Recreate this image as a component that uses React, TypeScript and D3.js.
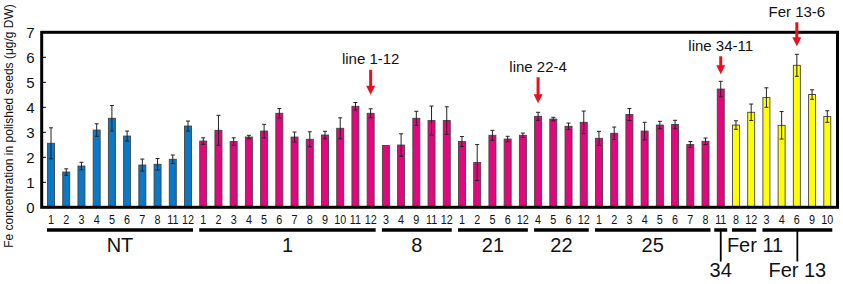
import React from "react";
import * as d3 from "d3";

const lineLabels = [
  "1","2","3","4","5","6","7","8","11","12",
  "1","2","3","4","5","6","7","8","9","10","11","12",
  "3","4","9","11","12",
  "1","2","5","6","12",
  "4","5","6","12",
  "1","2","3","4","5","6","7","8",
  "11",
  "8","12",
  "3","4","6","9","10",
];
const feValues = [
  2.56,1.41,1.65,3.09,3.56,2.85,1.69,1.72,1.92,3.25,
  2.65,3.08,2.63,2.81,3.05,3.76,2.81,2.72,2.89,3.16,4.04,3.76,
  2.47,2.49,3.56,3.47,3.47,
  2.63,1.79,2.88,2.73,2.88,
  3.64,3.53,3.24,3.40,
  2.76,2.96,3.71,3.05,3.29,3.31,2.51,2.64,
  4.73,
  3.29,3.80,
  4.39,3.28,5.68,4.51,3.63,
];
const feErrors = [
  0.62,0.13,0.15,0.25,0.51,0.20,0.24,0.23,0.17,0.20,
  0.13,0.60,0.15,0.07,0.27,0.19,0.20,0.30,0.15,0.42,0.15,0.18,
  0.0,0.45,0.28,0.58,0.55,
  0.20,0.72,0.20,0.11,0.09,
  0.16,0.07,0.13,0.45,
  0.28,0.25,0.24,0.35,0.15,0.17,0.12,0.13,
  0.31,
  0.17,0.33,
  0.39,0.55,0.44,0.19,0.23,
];
const groupNames = ["NT","1","8","21","22","25","34","Fer 11","Fer 13"];
const groupSizes = [10,12,5,5,4,8,1,2,5];
const groupKinds = ["NT","line","line","line","line","line","line","Fer","Fer"];
const yTicks = [0,1,2,3,4,5,6,7];
const annotations = [
  { index: 21, label: "line 1-12", gap: 14, len: 25 },
  { index: 32, label: "line 22-4", gap: 9, len: 26 },
  { index: 44, label: "line 34-11", gap: 7, len: 18 },
  { index: 49, label: "Fer 13-6", gap: 8, len: 24 },
];

const kindColor: Record<string, string> = { NT: "#0b77c7", line: "#e2077d", Fer: "#ffff00" };
const FONT = "Liberation Sans, Arial, sans-serif";

export default function App() {
  const W = 843, H = 284;
  const idx = feValues.map((_, i) => i);
  const x = d3.scaleBand<number>().domain(idx).range([43.4, 834.9]).padding(0);
  const y = d3.scaleLinear().domain([0, 7]).range([207.3, 32.3]);
  const bw = 7;
  const cx = (i: number) => (x(i) as number) + x.bandwidth() / 2;

  const groups: { name: string; start: number; end: number; kind: string }[] = [];
  let s = 0;
  groupNames.forEach((g, k) => {
    groups.push({ name: g, start: s, end: s + groupSizes[k] - 1, kind: groupKinds[k] });
    s += groupSizes[k];
  });
  const kindOf = (i: number) => groups.find((g) => i >= g.start && i <= g.end)!.kind;

  const lineY = 230;
  return (
    <svg width={W} height={H} style={{ position: "absolute", left: 0, top: 0, display: "block" }} fontFamily={FONT}>
      <rect width={W} height={H} fill="#fff" />
      <text transform={`translate(12.5,126) rotate(-90)`} textAnchor="middle" fontSize={12} fill="#111">
        Fe concentration in polished seeds (μg/g DW)
      </text>
      {yTicks.map((t) => (
        <g key={t}>
          <text x={34.5} y={y(t)} dy="0.36em" textAnchor="end" fontSize={15} fill="#111">{t}</text>
          <line x1={42} x2={46} y1={y(t)} y2={y(t)} stroke="#000" strokeWidth={1} />
        </g>
      ))}
      {idx.map((i) => {
        const v = feValues[i];
        return (
          <rect key={i} x={cx(i) - bw / 2} y={y(v)} width={bw} height={y(0) - y(v)}
            fill={kindColor[kindOf(i)]} stroke="#444" strokeWidth={0.9} />
        );
      })}
      {idx.map((i) => {
        const v = feValues[i], e = feErrors[i];
        if (e <= 0) return null;
        const c = cx(i);
        return (
          <g key={"e" + i} stroke="#222" strokeWidth={1}>
            <line x1={c} x2={c} y1={y(v - e)} y2={y(v + e)} />
            <line x1={c - 2} x2={c + 2} y1={y(v + e)} y2={y(v + e)} />
            <line x1={c - 2} x2={c + 2} y1={y(v - e)} y2={y(v - e)} />
          </g>
        );
      })}
      <rect x={41.7} y={y(7)} width={837.5 - 41.7} height={y(0) - y(7)} fill="none" stroke="#000" strokeWidth={3} />
      {idx.map((i) => (
        <text key={"t" + i} transform={`translate(${cx(i)},224) scale(0.8,1)`} textAnchor="middle" fontSize={13.5} fill="#111">{lineLabels[i]}</text>
      ))}
      {groups.map((g, k) => {
        const single = g.start === g.end;
        const x1 = cx(g.start) - (single ? 6.5 : 4);
        const x2 = cx(g.end) + (single ? 6.5 : 5);
        const mid = (x1 + x2) / 2;
        const lower = g.name === "34" || g.name === "Fer 13";
        const shift = g.name === "Fer 11" ? 11 : 0;
        return (
          <g key={"g" + k}>
            <line x1={x1} x2={x2} y1={lineY} y2={lineY} stroke="#000" strokeWidth={3.5} />
            {lower && <line x1={mid} x2={mid} y1={lineY} y2={261.5} stroke="#000" strokeWidth={1.8} />}
            <text x={mid + shift} y={lower ? 277 : 252} textAnchor="middle" fontSize={20} fill="#111">{g.name}</text>
          </g>
        );
      })}
      {annotations.map((a) => {
        const c = cx(a.index);
        const tip = y(feValues[a.index] + feErrors[a.index]) - a.gap;
        const top = tip - a.len;
        return (
          <g key={a.label}>
            <line x1={c} x2={c} y1={top} y2={tip - 8} stroke="#e8101c" strokeWidth={3} />
            <path d={`M${c - 4.5},${tip - 9} L${c + 4.5},${tip - 9} L${c},${tip} Z`} fill="#e8101c" />
            <text x={c} y={top - 5.5} textAnchor="middle" fontSize={15} fill="#111">{a.label}</text>
          </g>
        );
      })}
    </svg>
  );
}
